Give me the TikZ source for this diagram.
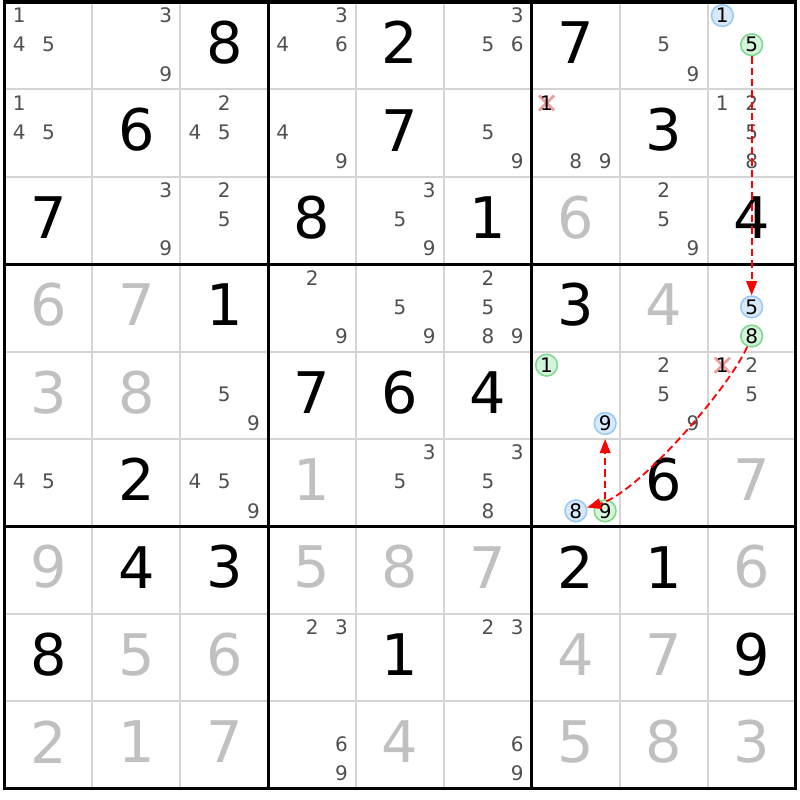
\documentclass[tikz,border=0pt]{standalone}
\usepackage{fontspec}
\setmainfont{DejaVu Sans}
\usetikzlibrary{arrows.meta}
\definecolor{thingrid}{HTML}{D4D4D4}
\definecolor{candgray}{HTML}{505050}
\definecolor{givengray}{HTML}{C0C0C0}
\definecolor{bfill}{HTML}{D7E9FB}
\definecolor{bline}{HTML}{9CC9F3}
\definecolor{gfill}{HTML}{D5F5DB}
\definecolor{gline}{HTML}{80D890}
\definecolor{xpink}{HTML}{F29C9C}
\definecolor{linkred}{HTML}{FF0000}
\tikzset{
  thinline/.style={draw=thingrid, line width=1.5pt},
  thickline/.style={draw=black, line width=2.3pt},
  bigk/.style={inner sep=0pt, text=black, font=\fontsize{43}{43}\selectfont},
  bigg/.style={inner sep=0pt, text=givengray, font=\fontsize{43}{43}\selectfont},
  candtext/.style={inner sep=0pt, text=candgray, font=\fontsize{15}{15}\selectfont},
  xcand/.style={inner sep=0pt, text=black, font=\fontsize{15}{15}\selectfont},
  xmark/.style={draw=xpink, line width=2.1pt},
  bluec/.style={circle, inner sep=0pt, minimum size=16.3pt, fill=bfill, draw=bline, line width=1.2pt, text=black, font=\fontsize{15}{15}\selectfont},
  greenc/.style={circle, inner sep=0pt, minimum size=16.3pt, fill=gfill, draw=gline, line width=1.2pt, text=black, font=\fontsize{15}{15}\selectfont},
  link/.style={draw=linkred, line width=1.35pt, dash pattern=on 5.5pt off 3pt, -{Triangle[length=10.5pt,width=8pt]}}
}
\begin{document}
\begin{tikzpicture}[x=0.75pt,y=-0.75pt]
\useasboundingbox (0,0) rectangle (800,800);
\fill[white] (0,0) rectangle (800,800);
\def\cw{87.9}\def\ch{87.4}\def\xo{4.5}\def\yo{2}
% thin grid lines
\foreach \i in {1,2,4,5,7,8} {
  \draw[thinline] ({\xo+\i*\cw},\yo) -- ({\xo+\i*\cw},{\yo+9*\ch});
  \draw[thinline] (\xo,{\yo+\i*\ch}) -- ({\xo+9*\cw},{\yo+\i*\ch});
}
% thick grid lines
\foreach \i in {0,3,6,9} {
  \draw[thickline] ({\xo+\i*\cw},{\yo-1.5}) -- ({\xo+\i*\cw},{\yo+9*\ch+1.5});
  \draw[thickline] ({\xo-1.5},{\yo+\i*\ch}) -- ({\xo+9*\cw+1.5},{\yo+\i*\ch});
}
% big digits
\foreach \r/\c/\d/\s in {
 1/3/8/bigk, 1/5/2/bigk, 1/7/7/bigk,
 2/2/6/bigk, 2/5/7/bigk, 2/8/3/bigk,
 3/1/7/bigk, 3/4/8/bigk, 3/6/1/bigk, 3/7/6/bigg, 3/9/4/bigk,
 4/1/6/bigg, 4/2/7/bigg, 4/3/1/bigk, 4/7/3/bigk, 4/8/4/bigg,
 5/1/3/bigg, 5/2/8/bigg, 5/4/7/bigk, 5/5/6/bigk, 5/6/4/bigk,
 6/2/2/bigk, 6/4/1/bigg, 6/8/6/bigk, 6/9/7/bigg,
 7/1/9/bigg, 7/2/4/bigk, 7/3/3/bigk, 7/4/5/bigg, 7/5/8/bigg, 7/6/7/bigg, 7/7/2/bigk, 7/8/1/bigk, 7/9/6/bigg,
 8/1/8/bigk, 8/2/5/bigg, 8/3/6/bigg, 8/5/1/bigk, 8/7/4/bigg, 8/8/7/bigg, 8/9/9/bigk,
 9/1/2/bigg, 9/2/1/bigg, 9/3/7/bigg, 9/5/4/bigg, 9/7/5/bigg, 9/8/8/bigg, 9/9/3/bigg} {
  \node[\s] (v\r\c) at ({\xo+(\c-0.5)*\cw},{\yo+(\r-0.5)*\ch-3}) {\d};
}
% candidates
\foreach \r/\c/\l in {
 1/1/{1,4,5}, 1/2/{3,9}, 1/4/{3,4,6}, 1/6/{3,5,6}, 1/8/{5,9},
 2/1/{1,4,5}, 2/3/{2,4,5}, 2/4/{4,9}, 2/6/{5,9}, 2/7/{8,9}, 2/9/{1,2,5,8},
 3/2/{3,9}, 3/3/{2,5}, 3/5/{3,5,9}, 3/8/{2,5,9},
 4/4/{2,9}, 4/5/{5,9}, 4/6/{2,5,8,9},
 5/3/{5,9}, 5/8/{2,5,9}, 5/9/{2,5},
 6/1/{4,5}, 6/3/{4,5,9}, 6/5/{3,5}, 6/6/{3,5,8},
 8/4/{2,3}, 8/6/{2,3},
 9/4/{6,9}, 9/6/{6,9}} {
  \foreach \d in \l {
    \pgfmathsetmacro\px{\xo+(\c-1)*\cw+(mod(\d-1,3)+0.5)*\cw/3}
    \pgfmathsetmacro\py{\yo+(\r-1)*\ch+(floor((\d-1)/3)+0.5)*\ch/3-1}
    \node[candtext] (k\r\c\d) at (\px,\py) {\d};
  }
}
% eliminated candidates
\foreach \r/\c in {2/7, 5/9} {
  \pgfmathsetmacro\px{\xo+(\c-1)*\cw+0.5*\cw/3}
  \pgfmathsetmacro\py{\yo+(\r-1)*\ch+0.5*\ch/3-1}
  \draw[xmark] ({\px-7.5},{\py-7.5}) -- ({\px+7.5},{\py+7.5});
  \draw[xmark] ({\px-7.5},{\py+7.5}) -- ({\px+7.5},{\py-7.5});
  \node[xcand] (x\r\c) at (\px,\py) {1};
}
% circled candidates
\foreach \n/\r/\c/\d/\s in {
 ca/1/9/1/bluec, cb/1/9/5/greenc,
 cc/4/9/5/bluec, cd/4/9/8/greenc,
 ce/5/7/1/greenc, cf/5/7/9/bluec,
 cg/6/7/8/bluec, ch/6/7/9/greenc} {
  \pgfmathsetmacro\px{\xo+(\c-1)*\cw+(mod(\d-1,3)+0.5)*\cw/3}
  \pgfmathsetmacro\py{\yo+(\r-1)*\ch+(floor((\d-1)/3)+0.5)*\ch/3-1}
  \node[\s] (\n) at (\px,\py) {\d};
}
% links
\draw[link] (cb) -- (cc);
\draw[link] (cd) .. controls (731,385) and (640,492) .. (cg);
\draw[link, shorten >=3pt] (ch) -- (cf);
\end{tikzpicture}
\end{document}
